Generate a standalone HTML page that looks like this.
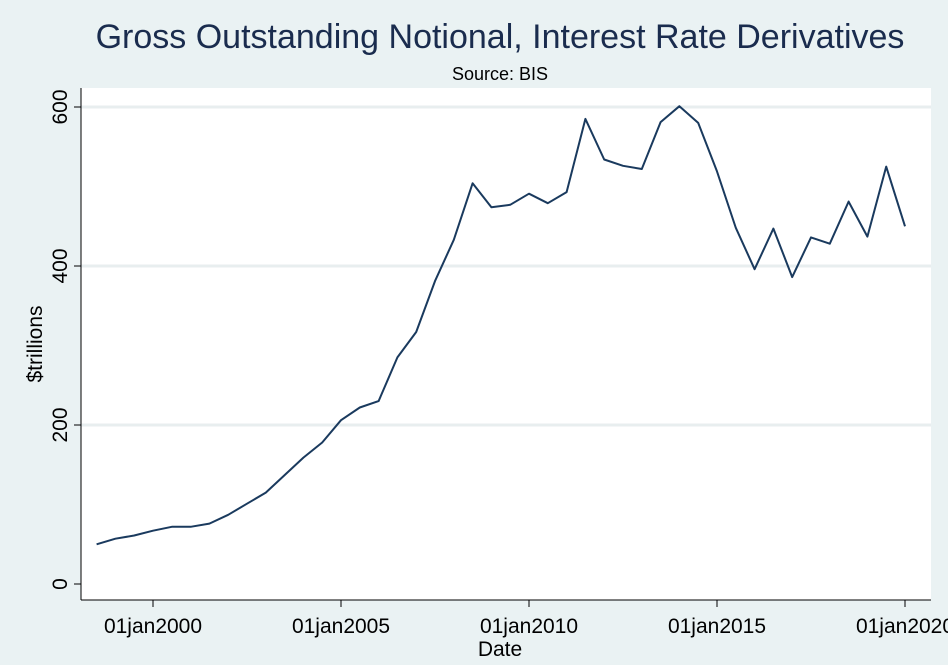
<!DOCTYPE html>
<html><head><meta charset="utf-8"><style>
body{margin:0;background:#eaf2f3;}
svg{display:block;font-family:"Liberation Sans",Arial,sans-serif;}
</style></head><body>
<svg id="chart" width="948" height="665" viewBox="0 0 948 665">
<rect x="0" y="0" width="948" height="665" fill="#eaf2f3"/>
<rect x="81" y="88" width="850" height="512" fill="#ffffff"/>
<text x="500" y="48" text-anchor="middle" font-size="34" fill="#1a2c4e">Gross Outstanding Notional, Interest Rate Derivatives</text>
<text x="500" y="80" text-anchor="middle" font-size="18" fill="#000">Source: BIS</text>
<g id="grid"></g>
<line x1="81" y1="88" x2="81" y2="600" stroke="#000" stroke-width="1"/>
<line x1="81" y1="600" x2="931" y2="600" stroke="#000" stroke-width="1"/>
<g id="yticks"></g><g id="xticks"></g>
<text transform="translate(42,344) rotate(-90)" text-anchor="middle" font-size="21" fill="#000">$trillions</text>
<text x="500" y="656" text-anchor="middle" font-size="21" fill="#000">Date</text>
<g id="series"></g>
</svg>
<script>
const startYear = 1998.5;
const stepYears = 0.5;
const values = [50,57,61,67,72,72,76,87,101,115,137,159,178,206,222,230,285,317,381,433,504,474,477,491,479,493,585,534,526,522,581,601,580,519,448,396,447,386,436,428,481,437,525,450];
const yTicks = [0,200,400,600];
const xTickYears = [2000,2005,2010,2015,2020];
const xTickLabels = ["01jan2000","01jan2005","01jan2010","01jan2015","01jan2020"];
const NS="http://www.w3.org/2000/svg";
function xs(yr){return 153+(yr-2000)*37.6;}
function ys(v){return 584-v*0.795;}
const grid=document.getElementById('grid'),yt=document.getElementById('yticks'),xt=document.getElementById('xticks'),ser=document.getElementById('series');
yTicks.forEach(t=>{
  const y=ys(t);
  if(t>0){const g=document.createElementNS(NS,'line');
  g.setAttribute('x1',81);g.setAttribute('x2',931);g.setAttribute('y1',y);g.setAttribute('y2',y);
  g.setAttribute('stroke','#e8eeef');g.setAttribute('stroke-width','3');
  
  
  grid.appendChild(g);}
  const tk=document.createElementNS(NS,'line');
  tk.setAttribute('x1',74);tk.setAttribute('x2',81);tk.setAttribute('y1',y);tk.setAttribute('y2',y);tk.setAttribute('stroke','#000');
  
  
  yt.appendChild(tk);
  const tx=document.createElementNS(NS,'text');
  tx.setAttribute('transform','translate(67,'+y+') rotate(-90)');tx.setAttribute('text-anchor','middle');tx.setAttribute('font-size','21');
  tx.textContent=t;
  
  
  yt.appendChild(tx);
});
xTickYears.forEach((yr,i)=>{
  const x=xs(yr);
  const tk=document.createElementNS(NS,'line');
  tk.setAttribute('x1',x);tk.setAttribute('x2',x);tk.setAttribute('y1',600);tk.setAttribute('y2',607);tk.setAttribute('stroke','#000');
  
  
  xt.appendChild(tk);
  const tx=document.createElementNS(NS,'text');
  tx.setAttribute('x',x);tx.setAttribute('y',633);tx.setAttribute('text-anchor','middle');tx.setAttribute('font-size','21');
  tx.textContent=xTickLabels[i];
  
  
  xt.appendChild(tx);
});
const pts=values.map((v,i)=>xs(startYear+i*stepYears).toFixed(1)+','+ys(v).toFixed(1)).join(' ');
const pl=document.createElementNS(NS,'polyline');
pl.setAttribute('points',pts);pl.setAttribute('fill','none');pl.setAttribute('stroke','#1a3a5e');pl.setAttribute('stroke-width','2');pl.setAttribute('stroke-linejoin','round');


ser.appendChild(pl);
</script>
</body></html>
